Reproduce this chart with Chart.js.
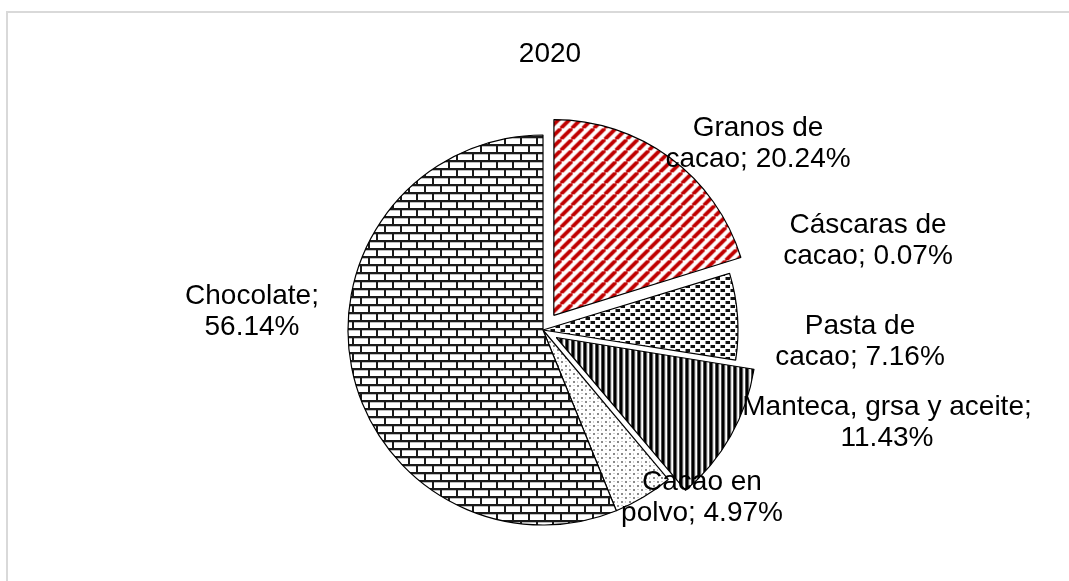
<!DOCTYPE html>
<html><head><meta charset="utf-8">
<script src="https://cdn.jsdelivr.net/npm/chart.js@4.4.1/dist/chart.umd.min.js"></script>
<style>html,body{margin:0;padding:0;background:#fff;overflow:hidden}#wrap{width:1069px;height:581px;position:relative}</style>
</head><body><div id="wrap"><canvas id="c" width="1069" height="581"></canvas></div>
<script>
// ---- data ----
const chartTitle = '2020';
const categories = ['Granos de cacao', 'Cáscaras de cacao', 'Pasta de cacao', 'Manteca, grsa y aceite', 'Cacao en polvo', 'Chocolate'];
const shares = [20.24, 0.07, 7.16, 11.43, 4.97, 56.14];
// ---- layout (not data) ----
const wrapAfterWords = [2, 2, 2, 4, 2, 1];
const explodePx = [19, 0, 0, 20.5, 0, 0];
const labelNudge = [[215, -186], [325, -89], [317, 12], [344, 93], [159, 168], [-291, -18]];
const FONT = '"Liberation Sans", Arial, sans-serif';

// Chart.js v4 arc draws offset as offset/4 * (1 + fix), fix = 1 - sin(min(PI, circumference))
const total = shares.reduce((a, b) => a + b, 0);
const offsetOpt = explodePx.map((d, i) => {
  const circ = shares[i] / total * 2 * Math.PI;
  const fix = 1 - Math.sin(Math.min(Math.PI, circ));
  return 4 * d / (1 + fix);
});

function tile(w, h, draw) {
  const c = document.createElement('canvas'); c.width = w; c.height = h;
  const g = c.getContext('2d'); g.fillStyle = '#fff'; g.fillRect(0, 0, w, h); draw(g, w, h);
  return document.getElementById('c').getContext('2d').createPattern(c, 'repeat');
}
const patRed = tile(11, 11, (g, w, h) => {
  g.strokeStyle = '#c00000'; g.lineWidth = 3.8;
  for (let k = -1; k <= 1; k++) { g.beginPath(); g.moveTo(k * w, h); g.lineTo(k * w + w, 0); g.stroke(); }
});
const patConfetti = tile(10, 8, (g) => {
  g.fillStyle = '#111'; g.fillRect(1, 1, 4, 3); g.fillRect(6, 5, 4, 3);
  g.fillStyle = '#888'; g.fillRect(0, 1, 1, 3); g.fillRect(5, 5, 1, 3);
});
const patVert = tile(6, 4, (g) => {
  g.fillStyle = '#000'; g.fillRect(0, 0, 3, 4); g.fillStyle = '#888'; g.fillRect(3, 0, 1, 4);
});
const patDots = tile(8, 8, (g) => {
  g.fillStyle = '#8a8a8a'; g.fillRect(1, 1, 2, 2); g.fillRect(5, 5, 2, 2);
  g.fillStyle = '#cfcfcf'; g.fillRect(5, 1, 2, 1); g.fillRect(1, 5, 1, 2);
});
const patBrick = tile(16, 16, (g) => {
  g.fillStyle = '#1a1a1a';
  g.fillRect(0, 0, 16, 2); g.fillRect(0, 8, 16, 2);
  g.fillRect(0, 0, 2, 8); g.fillRect(8, 8, 2, 8);
  g.fillStyle = '#bdbdbd';
  g.fillRect(2, 2, 14, 1); g.fillRect(0, 10, 8, 1); g.fillRect(10, 10, 6, 1);
});
const fills = [patRed, 'rgba(0,0,0,0)', patConfetti, patVert, patDots, patBrick];
const borders = [1.2, 0, 1.2, 1.2, 1.2, 1.2];

const decor = {
  id: 'decor',
  beforeDraw(chart) {
    const ctx = chart.ctx; ctx.save();
    ctx.strokeStyle = '#d9d9d9'; ctx.lineWidth = 2; ctx.strokeRect(7, 12, 1200, 800);
    ctx.restore();
  },
  afterDraw(chart) {
    const ctx = chart.ctx; const ca = chart.chartArea;
    const cx = (ca.left + ca.right) / 2, cy = (ca.top + ca.bottom) / 2;
    ctx.save(); ctx.fillStyle = '#000'; ctx.textAlign = 'center'; ctx.textBaseline = 'middle';
    ctx.font = '28px ' + FONT;
    ctx.fillText(chartTitle, 550, 54);
    ctx.font = '28px ' + FONT;
    const lh = 31.5;
    categories.forEach((cat, i) => {
      const words = (cat + '; ' + shares[i].toFixed(2) + '%').split(' ');
      const lines = [words.slice(0, wrapAfterWords[i]).join(' '), words.slice(wrapAfterWords[i]).join(' ')];
      const x = cx + labelNudge[i][0], y = cy + labelNudge[i][1];
      ctx.fillText(lines[0], x, y - lh / 2);
      ctx.fillText(lines[1], x, y + lh / 2);
    });
    ctx.restore();
  }
};

new Chart(document.getElementById('c'), {
  type: 'pie',
  data: { labels: categories, datasets: [{ data: shares, backgroundColor: fills, borderColor: '#000', borderWidth: borders, offset: offsetOpt }] },
  options: {
    responsive: false, animation: false, radius: 195,
    layout: { padding: { left: 17, right: 0, top: 79, bottom: 0 } },
    plugins: { legend: { display: false }, tooltip: { enabled: false }, title: { display: false } }
  },
  plugins: [decor]
});
</script></body></html>
